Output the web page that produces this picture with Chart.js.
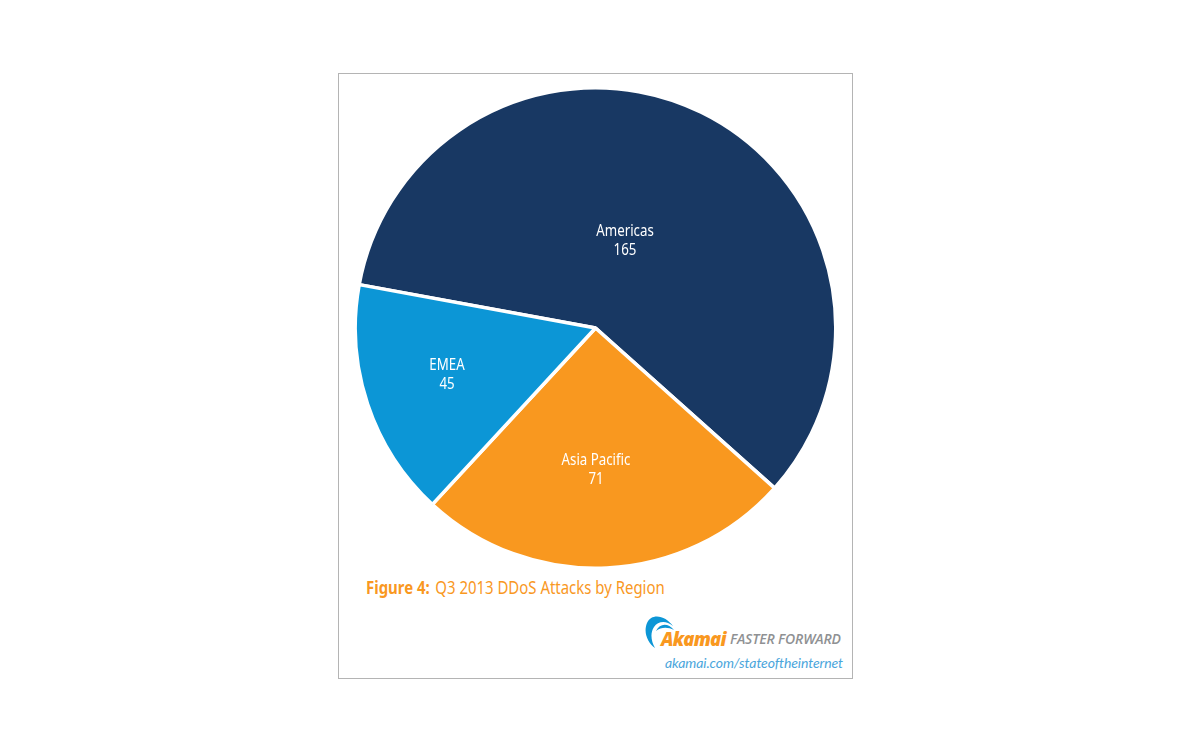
<!DOCTYPE html>
<html>
<head>
<meta charset="utf-8">
<title>Q3 2013 DDoS Attacks by Region</title>
<script src="https://cdn.jsdelivr.net/npm/chart.js@4"></script>
<style>
  html, body { margin: 0; padding: 0; background: #fff; }
  body { width: 1200px; height: 750px; position: relative; overflow: hidden; font-family: "Noto Sans", sans-serif; }
  #frame { position: absolute; left: 338px; top: 73px; width: 513px; height: 604px; border: 1px solid #b4b4b4; }
  #pie { position: absolute; left: 353px; top: 86px; }
  #caption { position: absolute; left: 366px; top: 576px; font-size: 18px; line-height: 22px; color: #f9981f; white-space: nowrap; transform: scaleX(0.83); transform-origin: left center; }
  #caption b { font-weight: 700; margin-right: 2px; }
  #logoWord { position: absolute; left: 661px; top: 626px; font: italic 800 18.5px/26px "Open Sans", sans-serif; color: #f9981f; letter-spacing: -0.8px; }
  #tagline { position: absolute; left: 730px; top: 631px; font: italic 600 14px/16px "Open Sans", sans-serif; color: #8f9193; white-space: nowrap; letter-spacing: -0.15px; }
  #site { position: absolute; left: 665px; top: 654px; font: italic 400 14px/18px Lato, sans-serif; color: #4ba6dc; white-space: nowrap; letter-spacing: -0.1px; }
  #swoosh { position: absolute; left: 644px; top: 613px; }
</style>
</head>
<body>
<div id="frame"></div>
<canvas id="pie" width="485" height="484"></canvas>
<div id="caption"><b>Figure 4:</b> Q3 2013 DDoS Attacks by Region</div>
<svg id="swoosh" width="40" height="36" viewBox="0 0 40 36">
  <path d="M29 13 C22 3 8 -1 3 10 C-1 20 4 30 11 35 C7 28 6 20 10 14 C14 8 22 7 29 13 Z" fill="#0d96d6"/>
  <path d="M30 17 C24 10 16 10 12 18 C17 14 24 14 30 17 Z" fill="#0d96d6"/>
</svg>
<div id="logoWord">Akamai</div>
<div id="tagline">FASTER FORWARD</div>
<div id="site">akamai.com/stateoftheinternet</div>

<script>
// Q3 2013 attacks per region
const regions = ['Americas', 'Asia Pacific', 'EMEA'];
const attacks = [165, 71, 45];
const sliceColors = ['#183863', '#f9981f', '#0c96d6'];

// where the two-line labels sit on the canvas
const labelSpots = [[272, 145], [243, 374], [94, 279]];

// writes the region name and its count inside each slice
const sliceLabels = {
  id: 'sliceLabels',
  afterDatasetsDraw(chart) {
    const ctx = chart.ctx;
    ctx.fillStyle = '#ffffff';
    ctx.font = '16px "Noto Sans"';
    ctx.textAlign = 'center';
    ctx.textBaseline = 'middle';
    regions.forEach((name, i) => {
      const [x, y] = labelSpots[i];
      ctx.save();
      ctx.translate(x, y);
      ctx.scale(0.83, 1); // the original face is condensed
      ctx.fillText(name, 0, 0);
      ctx.fillText(String(attacks[i]), 0, 19);
      ctx.restore();
    });
  }
};

new Chart(document.getElementById('pie'), {
  type: 'pie',
  data: {
    labels: regions,
    datasets: [{
      data: attacks,
      backgroundColor: sliceColors,
      borderColor: '#ffffff',
      borderWidth: 3.5
    }]
  },
  options: {
    responsive: false,
    animation: false,
    rotation: 280.4,
    plugins: {
      legend: { display: false },
      tooltip: { enabled: false },
      title: { display: false }
    }
  },
  plugins: [sliceLabels]
});
</script>
</body>
</html>
